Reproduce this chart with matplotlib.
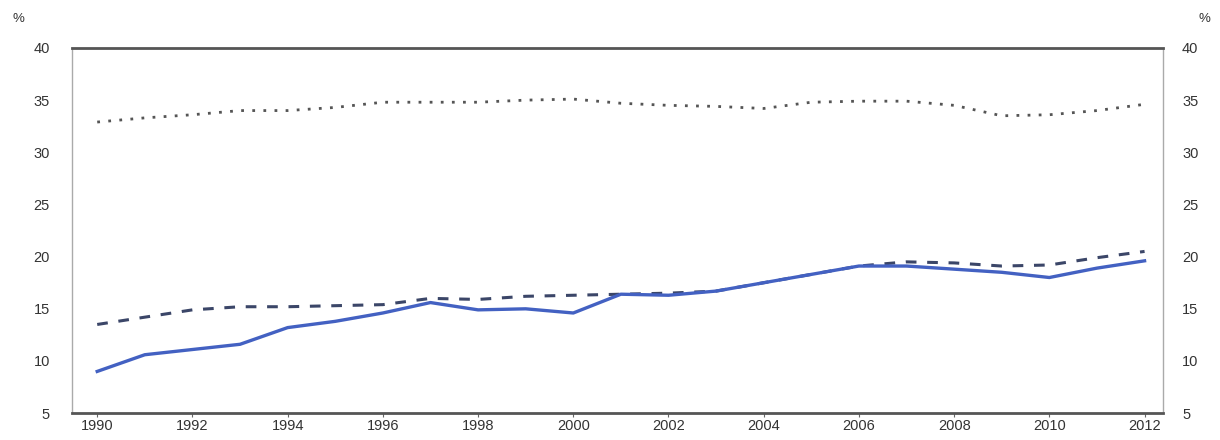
import matplotlib
matplotlib.use("Agg")
import matplotlib.pyplot as plt

plt.rcParams['font.family'] = ['Liberation Sans', 'DejaVu Sans']

years = list(range(1990, 2013))

# solid blue series
solid = [9.0, 10.6, 11.1, 11.6, 13.2, 13.8, 14.6, 15.6, 14.9, 15.0, 14.6, 16.4,
         16.3, 16.7, 17.5, 18.3, 19.1, 19.1, 18.8, 18.5, 18.0, 18.9, 19.6]
# dashed series
dashed = [13.5, 14.2, 14.9, 15.2, 15.2, 15.3, 15.4, 16.0, 15.9, 16.2, 16.3, 16.4,
          16.5, 16.7, 17.5, 18.3, 19.1, 19.5, 19.4, 19.1, 19.2, 19.9, 20.5]
# dotted series
dotted = [32.9, 33.3, 33.6, 34.0, 34.0, 34.3, 34.8, 34.8, 34.8, 35.0, 35.1, 34.7,
          34.5, 34.4, 34.2, 34.8, 34.9, 34.9, 34.5, 33.5, 33.6, 34.0, 34.6]

x_ticks = list(range(1990, 2013, 2))
y_ticks = [5, 10, 15, 20, 25, 30, 35, 40]

fig = plt.figure(figsize=(12.2, 4.4), dpi=100)
ax = fig.add_axes([0.059, 0.061, 0.894, 0.830])

ax.plot(years, dotted, color='#555555', linestyle=(0, (1, 3)), linewidth=2.0)
ax.plot(years, dashed, color='#3b4668', linestyle=(0, (3.5, 3.5)), linewidth=2.2)
ax.plot(years, solid, color='#4361c2', linewidth=2.4)

ax.set_xlim(1989.47, 2012.38)
ax.set_ylim(5, 40)
ax.set_xticks(x_ticks)
ax.set_yticks(y_ticks)

for side in ['left', 'right']:
    ax.spines[side].set_color('#aaaaaa')
    ax.spines[side].set_linewidth(1.0)
for side in ['top', 'bottom']:
    ax.spines[side].set_color('#555555')
    ax.spines[side].set_linewidth(2.0)

# right-hand copy of the value axis
ax2 = ax.twinx()
ax2.set_ylim(5, 40)
ax2.set_yticks(y_ticks)
for side in ax2.spines:
    ax2.spines[side].set_visible(False)

ax.tick_params(axis='x', length=3, color='#666666', labelsize=10.5,
               labelcolor='#333333', pad=1)
ax.tick_params(axis='y', length=0, labelsize=10.5, labelcolor='#333333', pad=16)
ax2.tick_params(axis='y', length=0, labelsize=10.5, labelcolor='#333333', pad=14)

fig.text(0.010, 0.950, '%', fontsize=9.5, color='#333333')
fig.text(0.992, 0.950, '%', fontsize=9.5, color='#333333', ha='right')

fig.savefig('out.png', dpi=100, facecolor='white')
